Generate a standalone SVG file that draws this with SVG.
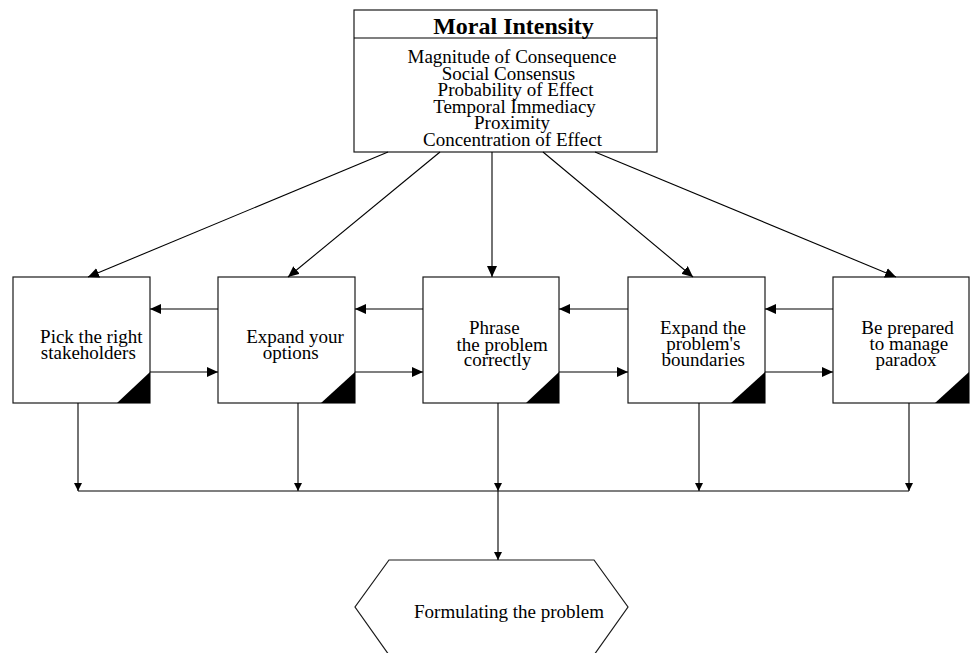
<svg xmlns="http://www.w3.org/2000/svg" width="970" height="653" viewBox="0 0 970 653">
<style>
.box{fill:#fff;stroke:#1a1a1a;stroke-width:1.2}
.tri{fill:#000}
.t{font-family:"Liberation Serif","Times New Roman",serif;font-size:19px;fill:#000;text-anchor:middle}
.title{font-family:"Liberation Serif","Times New Roman",serif;font-size:24px;font-weight:bold;fill:#000;text-anchor:middle}
.c{fill:none;stroke:#000;stroke-width:1.1}
</style>
<defs>
<marker id="ah" markerUnits="userSpaceOnUse" markerWidth="12" markerHeight="10" refX="11" refY="5" orient="auto">
<path d="M0,0 L11,5 L0,10 Z" fill="#000"/>
</marker>
<marker id="ahs" markerUnits="userSpaceOnUse" markerWidth="9" markerHeight="8" refX="8" refY="4" orient="auto">
<path d="M0,0 L8,4 L0,8 Z" fill="#000"/>
</marker>
</defs>
<rect width="970" height="653" fill="#fff"/>
<g id="moral-intensity">
<rect class="box" x="354" y="10" width="303" height="142"/>
<line class="c" x1="354" y1="38" x2="657" y2="38"/>
<text class="title" x="513.5" y="34">Moral Intensity</text>
<text class="t" x="512" y="63">Magnitude of Consequence</text>
<text class="t" x="508.5" y="79.5">Social Consensus</text>
<text class="t" x="515.5" y="96">Probability of Effect</text>
<text class="t" x="514.5" y="112.5">Temporal Immediacy</text>
<text class="t" x="512" y="129">Proximity</text>
<text class="t" x="512.5" y="145.5">Concentration of Effect</text>
</g>
<g id="pick-stakeholders">
<rect class="box" x="13" y="277" width="137" height="126"/>
<path class="tri" d="M117,403 L150,372 L150,403 Z"/>
<text class="t" x="91.3" y="342.7">Pick the right</text>
<text class="t" x="88.3" y="358.7">stakeholders</text>
</g>
<g id="expand-options">
<rect class="box" x="218" y="277" width="137" height="126"/>
<path class="tri" d="M321,403 L355,372 L355,403 Z"/>
<text class="t" x="295" y="342.7">Expand your</text>
<text class="t" x="290.8" y="358.7">options</text>
</g>
<g id="phrase-problem">
<rect class="box" x="423" y="277" width="136" height="126"/>
<path class="tri" d="M526,403 L559,372 L559,403 Z"/>
<text class="t" x="494.3" y="334">Phrase</text>
<text class="t" x="502.2" y="350.5">the problem</text>
<text class="t" x="497.5" y="366">correctly</text>
</g>
<g id="expand-boundaries">
<rect class="box" x="628" y="277" width="137" height="126"/>
<path class="tri" d="M731,403 L765,372 L765,403 Z"/>
<text class="t" x="703" y="334">Expand the</text>
<text class="t" x="703.3" y="350">problem's</text>
<text class="t" x="703.3" y="366">boundaries</text>
</g>
<g id="manage-paradox">
<rect class="box" x="833" y="277" width="136" height="126"/>
<path class="tri" d="M935,403 L969,372 L969,403 Z"/>
<text class="t" x="907.5" y="334">Be prepared</text>
<text class="t" x="908.8" y="350">to manage</text>
<text class="t" x="906" y="366">paradox</text>
</g>
<g id="formulating">
<path class="box" d="M389,560 L594,560 L628,607 L594,655 L389,655 L355,607 Z"/>
<text class="t" x="509" y="618">Formulating the problem</text>
</g>
<g id="connectors">
<line class="c" x1="388" y1="152" x2="88" y2="277" marker-end="url(#ah)"/>
<line class="c" x1="440" y1="152" x2="288" y2="277" marker-end="url(#ah)"/>
<line class="c" x1="492" y1="152" x2="492" y2="277" marker-end="url(#ah)"/>
<line class="c" x1="543" y1="152" x2="693" y2="277" marker-end="url(#ah)"/>
<line class="c" x1="595" y1="152" x2="896" y2="277" marker-end="url(#ah)"/>
<line class="c" x1="218" y1="309" x2="150" y2="309" marker-end="url(#ah)"/>
<line class="c" x1="423" y1="309" x2="355" y2="309" marker-end="url(#ah)"/>
<line class="c" x1="628" y1="309" x2="559" y2="309" marker-end="url(#ah)"/>
<line class="c" x1="833" y1="309" x2="765" y2="309" marker-end="url(#ah)"/>
<line class="c" x1="150" y1="372" x2="218" y2="372" marker-end="url(#ah)"/>
<line class="c" x1="355" y1="372" x2="423" y2="372" marker-end="url(#ah)"/>
<line class="c" x1="559" y1="372" x2="628" y2="372" marker-end="url(#ah)"/>
<line class="c" x1="765" y1="372" x2="833" y2="372" marker-end="url(#ah)"/>
<line class="c" x1="78" y1="403" x2="78" y2="491" marker-end="url(#ahs)"/>
<line class="c" x1="298" y1="403" x2="298" y2="491" marker-end="url(#ahs)"/>
<line class="c" x1="498" y1="403" x2="498" y2="491" marker-end="url(#ahs)"/>
<line class="c" x1="699" y1="403" x2="699" y2="491" marker-end="url(#ahs)"/>
<line class="c" x1="909" y1="403" x2="909" y2="491" marker-end="url(#ahs)"/>
<line class="c" x1="78" y1="491" x2="909" y2="491"/>
<line class="c" x1="498" y1="491" x2="498" y2="560" marker-end="url(#ahs)"/>
</g>
</svg>
